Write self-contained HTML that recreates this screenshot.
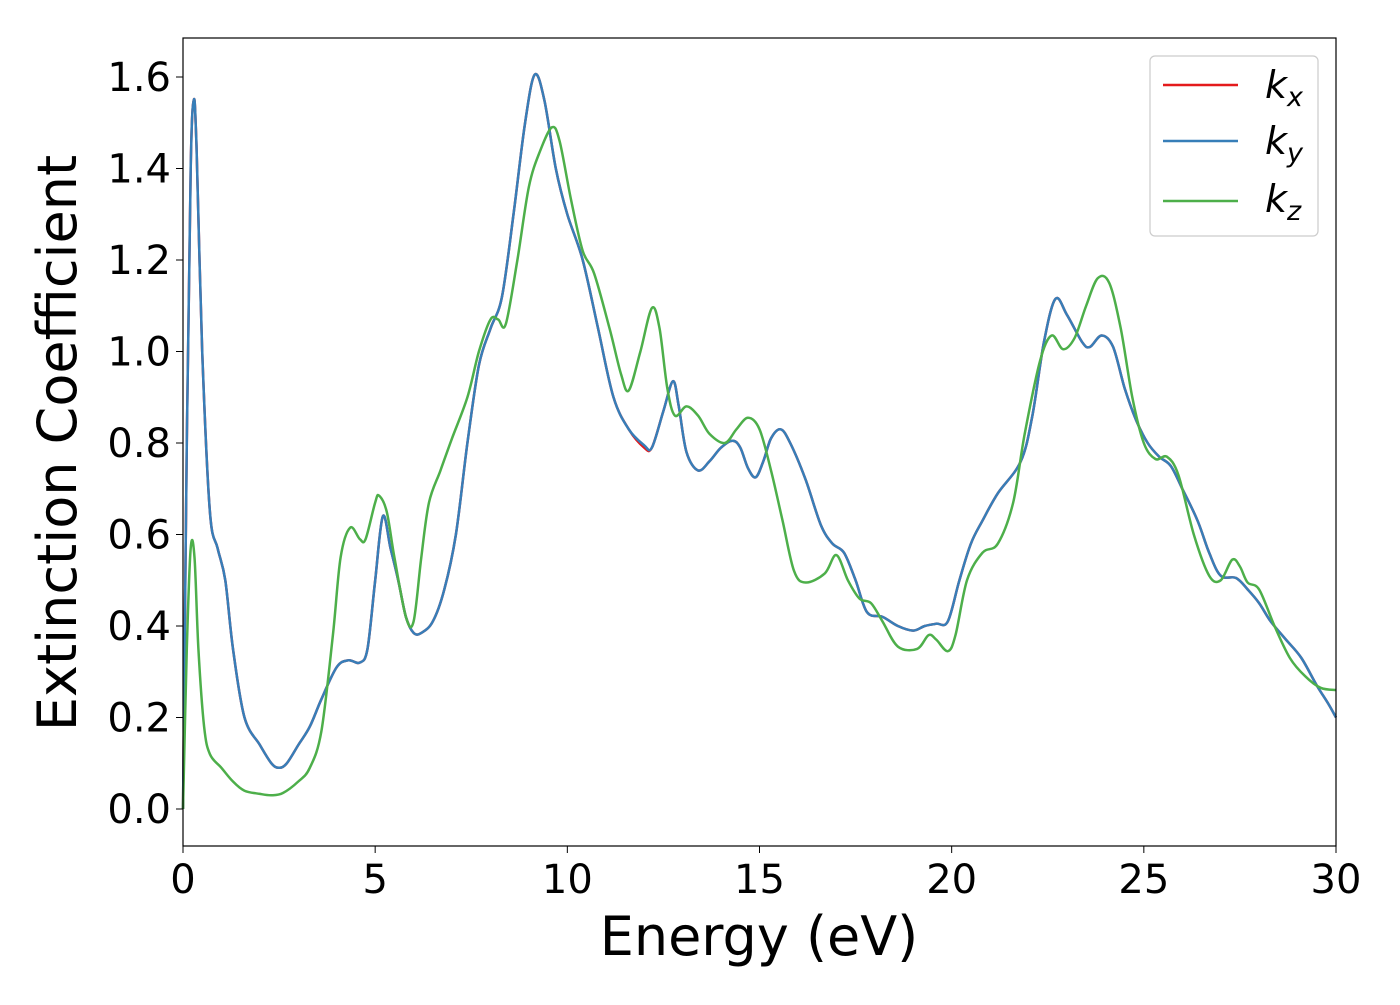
<!DOCTYPE html>
<html><head><meta charset="utf-8"><style>
body{margin:0;background:#fff}
svg text{font-family:"DejaVu Sans","Liberation Sans",sans-serif;fill:#000}
</style></head><body>
<svg id="chart" width="1400" height="1000" xmlns="http://www.w3.org/2000/svg">
<g id="plot"></g>
<rect x="183" y="38" width="1153" height="808" fill="none" stroke="#000" stroke-width="1.2"/>
<g id="ticks"></g>
<text x="759" y="955" font-size="54" text-anchor="middle">Energy (eV)</text>
<text transform="translate(76,443) rotate(-90)" font-size="54" text-anchor="middle">Extinction Coefficient</text>
<g>
<rect x="1150" y="56" width="168" height="180" rx="5" fill="#fff" fill-opacity="0.8" stroke="#ccc" stroke-width="1.2"/>
<line x1="1163" y1="85" x2="1238" y2="85" stroke="#e41a1c" stroke-width="2.5"/>
<line x1="1163" y1="141" x2="1238" y2="141" stroke="#377eb8" stroke-width="2.5"/>
<line x1="1163" y1="201" x2="1238" y2="201" stroke="#4daf4a" stroke-width="2.5"/>
<text x="1265" y="98" font-size="38" font-style="italic">k<tspan font-size="27" dy="8">x</tspan></text>
<text x="1265" y="154" font-size="38" font-style="italic">k<tspan font-size="27" dy="8">y</tspan></text>
<text x="1265" y="212" font-size="38" font-style="italic">k<tspan font-size="27" dy="8">z</tspan></text>
</g>
</svg>
<script>
const xTicks=[0,5,10,15,20,25,30];
const yTicks=[0.0,0.2,0.4,0.6,0.8,1.0,1.2,1.4,1.6];
const kxE=[0,0.1,0.2,0.28,0.35,0.5,0.7,0.9,1.1,1.3,1.6,2.0,2.3,2.5,2.7,3.0,3.3,3.6,4.0,4.3,4.6,4.8,5.0,5.2,5.4,5.6,5.8,6.0,6.2,6.5,6.8,7.1,7.4,7.7,8.0,8.3,8.6,8.9,9.15,9.4,9.7,10.0,10.4,10.8,11.2,11.6,12.0,12.2,12.5,12.75,12.9,13.1,13.4,13.7,14.0,14.3,14.5,14.7,14.9,15.1,15.3,15.55,15.8,16.2,16.6,16.9,17.2,17.5,17.8,18.2,18.6,19.0,19.3,19.6,19.9,20.2,20.5,20.8,21.2,21.8,22.1,22.4,22.7,23.0,23.4,23.6,23.9,24.2,24.5,24.8,25.1,25.4,25.7,26.0,26.4,26.7,27.0,27.4,27.7,28.0,28.3,28.7,29.1,29.5,29.8,30];
const kxV=[0,0.8,1.4,1.55,1.45,1.0,0.65,0.57,0.5,0.35,0.2,0.14,0.1,0.09,0.1,0.14,0.18,0.24,0.31,0.325,0.32,0.35,0.5,0.64,0.57,0.5,0.42,0.385,0.385,0.41,0.48,0.6,0.8,0.97,1.05,1.12,1.3,1.5,1.605,1.55,1.4,1.3,1.2,1.05,0.9,0.83,0.79,0.79,0.87,0.935,0.88,0.78,0.74,0.76,0.79,0.805,0.79,0.745,0.725,0.76,0.81,0.83,0.8,0.72,0.62,0.58,0.56,0.5,0.43,0.42,0.4,0.39,0.4,0.405,0.41,0.5,0.58,0.63,0.69,0.76,0.86,1.02,1.115,1.08,1.02,1.01,1.035,1.01,0.92,0.85,0.8,0.77,0.75,0.7,0.63,0.56,0.51,0.505,0.48,0.45,0.41,0.37,0.33,0.27,0.23,0.2];
const kyV=kxV.map((v,i)=>i===46?0.795:v);
const kzE=[0,0.1,0.2,0.3,0.4,0.55,0.7,1.0,1.3,1.6,2.0,2.3,2.6,3.0,3.3,3.6,3.9,4.1,4.35,4.6,4.75,5.0,5.1,5.3,5.5,5.8,6.0,6.2,6.4,6.7,7.0,7.4,7.7,8.0,8.2,8.4,8.7,9.0,9.3,9.6,9.8,10.1,10.4,10.7,11.1,11.4,11.6,11.9,12.2,12.4,12.6,12.8,13.1,13.4,13.7,14.1,14.4,14.7,15.0,15.3,15.6,15.9,16.2,16.7,17.0,17.3,17.6,17.9,18.2,18.6,19.1,19.4,19.6,19.9,20.1,20.4,20.8,21.2,21.6,21.9,22.3,22.6,22.9,23.2,23.5,23.8,24.1,24.4,24.7,25.0,25.3,25.6,25.9,26.3,26.7,27.0,27.3,27.5,27.7,28.0,28.4,28.8,29.2,29.6,30];
const kzV=[0,0.35,0.57,0.55,0.35,0.18,0.12,0.09,0.06,0.04,0.033,0.03,0.035,0.06,0.09,0.17,0.38,0.55,0.615,0.59,0.59,0.67,0.685,0.65,0.55,0.42,0.41,0.55,0.67,0.74,0.81,0.9,1.0,1.07,1.07,1.06,1.2,1.36,1.44,1.49,1.46,1.33,1.22,1.17,1.05,0.95,0.915,1.0,1.095,1.05,0.92,0.86,0.88,0.86,0.82,0.8,0.83,0.855,0.83,0.74,0.63,0.52,0.495,0.515,0.555,0.5,0.46,0.45,0.41,0.355,0.35,0.38,0.37,0.345,0.38,0.5,0.56,0.58,0.67,0.82,0.98,1.035,1.005,1.03,1.1,1.16,1.15,1.05,0.9,0.8,0.765,0.77,0.73,0.6,0.51,0.5,0.545,0.53,0.495,0.48,0.4,0.33,0.29,0.265,0.26];
const NS="http://www.w3.org/2000/svg";
const X=v=>183+v*(1153/30);
const Y=v=>809-v*(732/1.6);
function path(E,V){
  const p=E.map((e,i)=>[X(e),Y(V[i])]);
  let d="M"+p[0][0]+","+p[0][1];
  for(let i=0;i<p.length-1;i++){
    const p0=p[Math.max(0,i-1)],p1=p[i],p2=p[i+1],p3=p[Math.min(p.length-1,i+2)];
    const c1=[p1[0]+(p2[0]-p0[0])/6,p1[1]+(p2[1]-p0[1])/6];
    const c2=[p2[0]-(p3[0]-p1[0])/6,p2[1]-(p3[1]-p1[1])/6];
    d+=` C${c1[0].toFixed(1)},${c1[1].toFixed(1)} ${c2[0].toFixed(1)},${c2[1].toFixed(1)} ${p2[0].toFixed(1)},${p2[1].toFixed(1)}`;
  }
  return d;
}
const plot=document.getElementById('plot');
[[kxE,kxV,'#e41a1c','series-kx'],[kxE,kyV,'#377eb8','series-ky'],[kzE,kzV,'#4daf4a','series-kz']].forEach(s=>{
  const el=document.createElementNS(NS,'path');
  el.setAttribute('d',path(s[0],s[1]));
  el.setAttribute('fill','none');el.setAttribute('stroke',s[2]);el.setAttribute('stroke-width','2.5');
  
  
  plot.appendChild(el);
});
const tg=document.getElementById('ticks');
xTicks.forEach(t=>{
  const l=document.createElementNS(NS,'line');
  l.setAttribute('x1',X(t));l.setAttribute('x2',X(t));l.setAttribute('y1',846);l.setAttribute('y2',853);l.setAttribute('stroke','#000');
  
  
  tg.appendChild(l);
  const tx=document.createElementNS(NS,'text');
  tx.setAttribute('x',X(t));tx.setAttribute('y',893);tx.setAttribute('font-size','40');tx.setAttribute('text-anchor','middle');
  tx.textContent=t;
  
  
  tg.appendChild(tx);
});
yTicks.forEach(t=>{
  const l=document.createElementNS(NS,'line');
  l.setAttribute('x1',176);l.setAttribute('x2',183);l.setAttribute('y1',Y(t));l.setAttribute('y2',Y(t));l.setAttribute('stroke','#000');
  
  
  tg.appendChild(l);
  const tx=document.createElementNS(NS,'text');
  tx.setAttribute('x',171);tx.setAttribute('y',Y(t)+14);tx.setAttribute('font-size','40');tx.setAttribute('text-anchor','end');
  tx.textContent=t.toFixed(1);
  
  
  tg.appendChild(tx);
});
</script>
</body></html>
